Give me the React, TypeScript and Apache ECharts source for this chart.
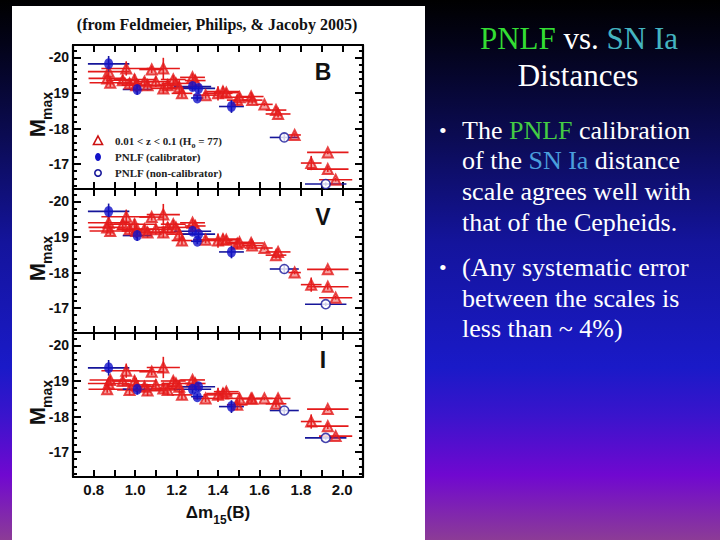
import React, { useEffect, useRef } from "react";
import * as echarts from "echarts";

// ---------- data ----------
const redX = [0.872, 0.865, 0.88, 0.957, 0.94, 0.973, 0.997, 1.005, 1.045, 1.06, 1.08, 1.1, 1.136, 1.136, 1.157, 1.184, 1.197, 1.213, 1.226, 1.277, 1.29, 1.34, 1.4, 1.424, 1.44, 1.493, 1.504, 1.56, 1.565, 1.624, 1.68, 1.69, 1.77, 1.85, 1.93, 1.93, 1.968];
const redXErr = [0.1, 0.09, 0.1, 0.12, 0.08, 0.06, 0.1, 0.07, 0.05, 0.08, 0.06, 0.07, 0.08, 0.06, 0.05, 0.06, 0.07, 0.06, 0.05, 0.06, 0.05, 0.06, 0.07, 0.08, 0.06, 0.05, 0.07, 0.06, 0.05, 0.04, 0.05, 0.06, 0.03, 0.05, 0.1, 0.1, 0.08];
const redYErr = [0.15, 0.1, 0.12, 0.2, 0.15, 0.15, 0.15, 0.2, 0.12, 0.15, 0.1, 0.15, 0.3, 0.15, 0.15, 0.12, 0.12, 0.2, 0.12, 0.1, 0.15, 0.1, 0.2, 0.15, 0.12, 0.15, 0.12, 0.12, 0.1, 0.05, 0.1, 0.1, 0.05, 0.2, 0.05, 0.08, 0.05];
const redB = [-19.6, -19.41, -19.29, -19.69, -19.36, -19.27, -19.38, -19.22, -19.32, -19.22, -19.66, -19.32, -19.69, -19.13, -19.22, -19.38, -19.27, -19.16, -18.99, -19.44, -19.35, -18.94, -18.99, -19.04, -19.01, -18.8, -18.88, -18.9, -18.8, -18.68, -18.52, -18.41, -17.82, -17.03, -17.33, -16.86, -16.56];
const redV = [-19.4, -19.27, -19.17, -19.57, -19.36, -19.22, -19.36, -19.17, -19.22, -19.13, -19.56, -19.22, -19.63, -19.13, -19.27, -19.36, -19.27, -19.08, -18.9, -19.4, -19.31, -18.92, -18.9, -18.94, -18.92, -18.81, -18.85, -18.83, -18.76, -18.69, -18.49, -18.58, -18.0, -17.66, -18.09, -17.6, -17.29];
const redI = [-18.93, -18.77, -19.03, -19.29, -19.0, -18.75, -19.0, -18.89, -18.84, -18.73, -19.26, -18.89, -19.38, -18.79, -18.75, -19.0, -18.93, -18.84, -18.61, -19.03, -18.93, -18.51, -18.61, -18.65, -18.7, -18.33, -18.51, -18.51, -18.5, -18.51, -18.36, -18.51, null, -17.86, -18.21, -17.73, -17.45];

const calX = [0.872, 1.01, 1.277, 1.306, 1.3, 1.465];
const calXErr = [0.1, 0.07, 0.09, 0.08, 0.03, 0.06];
const calYErr = [0.22, 0.15, 0.12, 0.12, 0.08, 0.18];
const calB = [-19.82, -19.1, -19.18, -19.13, -18.86, -18.62];
const calV = [-19.72, -19.04, -19.16, -19.08, -18.88, -18.58];
const calI = [-19.37, -18.77, -18.77, -18.84, -18.56, -18.28];

const ncX = [1.72, 1.92];
const ncXErr = [0.07, 0.1];
const ncYErr = [0.12, 0.05];
const ncB = [-17.75, -16.44];
const ncV = [-18.1, -17.11];
const ncI = [-18.17, -17.4];

const bandNames = ["B", "V", "I"];
const xTickLabels = ["0.8", "1.0", "1.2", "1.4", "1.6", "1.8", "2.0"];
const yMajorTicks = [-20, -19, -18, -17];
const yMinorTicks = [-20.2, -20.0, -19.8, -19.6, -19.4, -19.2, -19.0, -18.8, -18.6, -18.4, -18.2, -18.0, -17.8, -17.6, -17.4, -17.2, -17.0, -16.8, -16.6, -16.4];

const bandsRed = [redB, redV, redI];
const bandsCal = [calB, calV, calI];
const bandsNc = [ncB, ncV, ncI];

// ---------- layout ----------
const GRID_LEFT = 73;
const GRID_W = 290;
const GRID_TOPS = [45, 189, 333];
const GRID_H = 144;
const Y_MIN = -20.35;
const Y_MAX = -16.3;

const SANS = "'Liberation Sans', Arial, sans-serif";
const SERIF = "'Liberation Serif', 'Times New Roman', serif";

const RED = "#e41a1a";
const BLUE = "#1212c8";
const NAVY = "#16169a";

function build(xs: number[], ys: (number | null)[], xe: number[], ye: number[]) {
  const out: number[][] = [];
  xs.forEach((x, i) => {
    const y = ys[i];
    if (y === null || y === undefined) return;
    out.push([x, y, xe[i], ye[i]]);
  });
  return out;
}

function renderErr(color: string) {
  return (params: any, api: any) => {
    const x = api.value(0);
    const y = api.value(1);
    const xe = api.value(2);
    const ye = api.value(3);
    const l = api.coord([x - xe, y]);
    const r = api.coord([x + xe, y]);
    const t = api.coord([x, y - ye]);
    const b = api.coord([x, y + ye]);
    return {
      type: "group",
      children: [
        { type: "line", shape: { x1: l[0], y1: l[1], x2: r[0], y2: r[1] }, style: { stroke: color, lineWidth: 1.6 } },
        { type: "line", shape: { x1: t[0], y1: t[1], x2: b[0], y2: b[1] }, style: { stroke: color, lineWidth: 1.6 } },
      ],
    };
  };
}

function buildOption() {
  const grid: any[] = [];
  const xAxis: any[] = [];
  const yAxis: any[] = [];
  const series: any[] = [];
  const axisLine = { show: true, lineStyle: { color: "#000", width: 2.2 } };

  for (let p = 0; p < 3; p++) {
    grid.push({ left: GRID_LEFT, top: GRID_TOPS[p], width: GRID_W, height: GRID_H, containLabel: false });
    const isLast = p === 2;
    const xBase = {
      type: "value",
      gridIndex: p,
      min: 0.7,
      max: 2.1,
      interval: 0.1,
      splitLine: { show: false },
      axisLine,
      axisTick: { show: true, inside: true, length: 7, lineStyle: { color: "#000", width: 2 } },
    };
    xAxis.push({
      ...xBase,
      position: "bottom",
      axisLabel: {
        show: isLast,
        margin: 5,
        color: "#111",
        fontFamily: SANS,
        fontWeight: "bold",
        fontSize: 15,
        formatter: (v: number) => {
          const s = v.toFixed(1);
          return xTickLabels.indexOf(s) >= 0 ? s : "";
        },
      },
    });
    xAxis.push({ ...xBase, position: "top", axisLabel: { show: false } });

    const yBase = {
      type: "value",
      gridIndex: p,
      inverse: true,
      min: Y_MIN,
      max: Y_MAX,
      splitLine: { show: false },
    };
    for (const pos of ["left", "right"]) {
      yAxis.push({
        ...yBase,
        position: pos,
        axisLine,
        axisTick: { show: true, inside: true, length: 8, customValues: yMajorTicks, lineStyle: { color: "#000", width: 2 } },
        axisLabel: {
          show: pos === "left",
          customValues: yMajorTicks,
          margin: 4,
          color: "#111",
          fontFamily: SANS,
          fontWeight: "bold",
          fontSize: 14,
          formatter: (v: number) => String(Math.round(v)),
        },
      });
      yAxis.push({
        ...yBase,
        position: pos,
        axisLine: { show: false },
        axisTick: { show: true, inside: true, length: 4, customValues: yMinorTicks, lineStyle: { color: "#000", width: 2 } },
        axisLabel: { show: false },
      });
    }

    const xi = 2 * p;
    const yi = 4 * p;
    const red = build(redX, bandsRed[p], redXErr, redYErr);
    const cal = build(calX, bandsCal[p], calXErr, calYErr);
    const nc = build(ncX, bandsNc[p], ncXErr, ncYErr);

    series.push({ type: "custom", xAxisIndex: xi, yAxisIndex: yi, renderItem: renderErr(RED), data: red, encode: { x: 0, y: 1 }, z: 2 });
    series.push({ type: "custom", xAxisIndex: xi, yAxisIndex: yi, renderItem: renderErr(NAVY), data: cal, encode: { x: 0, y: 1 }, z: 2 });
    series.push({ type: "custom", xAxisIndex: xi, yAxisIndex: yi, renderItem: renderErr(NAVY), data: nc, encode: { x: 0, y: 1 }, z: 2 });
    series.push({
      type: "scatter", xAxisIndex: xi, yAxisIndex: yi, data: red.map((d) => [d[0], d[1]]),
      symbol: "triangle", symbolSize: 10,
      itemStyle: { color: "rgba(232,40,40,0.55)", borderColor: RED, borderWidth: 2 }, z: 3,
    });
    series.push({
      type: "scatter", xAxisIndex: xi, yAxisIndex: yi, data: cal.map((d) => [d[0], d[1]]),
      symbol: "circle", symbolSize: [9, 11], itemStyle: { color: BLUE }, z: 4,
    });
    series.push({
      type: "scatter", xAxisIndex: xi, yAxisIndex: yi, data: nc.map((d) => [d[0], d[1]]),
      symbol: "circle", symbolSize: 9, itemStyle: { color: "#fff", borderColor: NAVY, borderWidth: 1.6 }, z: 4,
    });
  }

  const graphic: any[] = [
    {
      type: "rect", z: -100, silent: true,
      shape: { x: 0, y: 0, width: 720, height: 540 },
      style: {
        fill: {
          type: "linear", x: 0, y: 0, x2: 0, y2: 1,
          colorStops: [
            { offset: 0, color: "#000000" },
            { offset: 0.08, color: "#030318" },
            { offset: 0.25, color: "#0b0b52" },
            { offset: 0.45, color: "#14149c" },
            { offset: 0.68, color: "#1a1ac8" },
            { offset: 0.77, color: "#3a14cc" },
            { offset: 0.88, color: "#7008d0" },
            { offset: 1, color: "#8c3c96" },
          ],
        },
      },
    },
    { type: "rect", z: -90, silent: true, shape: { x: 12, y: 6, width: 413, height: 540 }, style: { fill: "#ffffff" } },
    {
      type: "text", x: 217, y: 24, z: 100,
      style: { text: "(from Feldmeier, Philips, & Jacoby 2005)", fontFamily: SERIF, fontWeight: "bold", fontSize: 16, fill: "#111", textAlign: "center", textVerticalAlign: "middle" },
    },
  ];

  // band letters and y names
  const letterY = [72, 217, 360];
  for (let p = 0; p < 3; p++) {
    graphic.push({
      type: "text", x: 323, y: letterY[p], z: 100,
      style: { text: bandNames[p], fontFamily: SANS, fontWeight: "bold", fontSize: 23, fill: "#111", textAlign: "center", textVerticalAlign: "middle" },
    });
    const cy = GRID_TOPS[p] + GRID_H / 2;
    graphic.push({
      type: "text", x: 37, y: cy + 11, rotation: Math.PI / 2, z: 100,
      style: { text: "M", fontFamily: SANS, fontWeight: "bold", fontSize: 22, fill: "#111", textAlign: "center", textVerticalAlign: "middle" },
    });
    graphic.push({
      type: "text", x: 47, y: cy - 11, rotation: Math.PI / 2, z: 100,
      style: { text: "max", fontFamily: SANS, fontWeight: "bold", fontSize: 14, fill: "#111", textAlign: "center", textVerticalAlign: "middle" },
    });
  }

  // x axis name
  graphic.push({
    type: "text", x: 218, y: 512, z: 100,
    style: {
      text: "{a|Δm}{s|15}{a|(B)}",
      textAlign: "center", textVerticalAlign: "middle",
      rich: {
        a: { fontFamily: SANS, fontWeight: "bold", fontSize: 17, fill: "#111", lineHeight: 28, verticalAlign: "middle" },
        s: { fontFamily: SANS, fontWeight: "bold", fontSize: 12, fill: "#111", lineHeight: 12, verticalAlign: "bottom" },
      },
    },
  });

  // legend
  graphic.push({ type: "polygon", z: 100, shape: { points: [[98, 136], [102.5, 144.5], [93.5, 144.5]] }, style: { fill: "#fff", stroke: "#cc1111", lineWidth: 1.6 } });
  graphic.push({ type: "ellipse", z: 100, shape: { cx: 98, cy: 157, rx: 3, ry: 4 }, style: { fill: BLUE } });
  graphic.push({ type: "circle", z: 100, shape: { cx: 98, cy: 173, r: 3.2 }, style: { fill: "#fff", stroke: NAVY, lineWidth: 1.6 } });
  graphic.push({
    type: "text", x: 115, y: 141, z: 100,
    style: {
      text: "{a|0.01 < z < 0.1 (H}{s|o}{a| = 77)}",
      textVerticalAlign: "middle",
      fontFamily: SERIF,
      rich: {
        a: { fontFamily: SERIF, fontWeight: "bold", fontSize: 11, fill: "#222", lineHeight: 16, verticalAlign: "middle" },
        s: { fontFamily: SERIF, fontWeight: "bold", fontSize: 8, fill: "#222", lineHeight: 8, verticalAlign: "bottom" },
      },
    },
  });
  graphic.push({ type: "text", x: 115, y: 157, z: 100, style: { text: "PNLF (calibrator)", fontFamily: SERIF, fontWeight: "bold", fontSize: 11, fill: "#222", textVerticalAlign: "middle" } });
  graphic.push({ type: "text", x: 115, y: 173, z: 100, style: { text: "PNLF (non-calibrator)", fontFamily: SERIF, fontWeight: "bold", fontSize: 11, fill: "#222", textVerticalAlign: "middle" } });

  // right side text
  const titleRich = {
    wt: { fontFamily: SERIF, fontSize: 31, fill: "#ffffff" },
    gr: { fontFamily: SERIF, fontSize: 31, fill: "#33dd33" },
    tl: { fontFamily: SERIF, fontSize: 31, fill: "#44b4c0" },
  };
  graphic.push({ type: "text", x: 579, y: 38, z: 100, style: { text: "{gr|PNLF}{wt| vs. }{tl|SN Ia}", fontFamily: SERIF, fontSize: 31, fill: "#fff", rich: titleRich, textAlign: "center", textVerticalAlign: "middle" } });
  graphic.push({ type: "text", x: 578, y: 75, z: 100, style: { text: "Distances", fontFamily: SERIF, fontSize: 31, fill: "#ffffff", textAlign: "center", textVerticalAlign: "middle" } });

  const bodyRich = {
    wt: { fontFamily: SERIF, fontSize: 26, fill: "#ffffff" },
    gr: { fontFamily: SERIF, fontSize: 26, fill: "#44cc44" },
    bl: { fontFamily: SERIF, fontSize: 26, fill: "#4a9edc" },
  };
  const bodyLines: [string, number][] = [
    ["{wt|The }{gr|PNLF}{wt| calibration}", 130],
    ["{wt|of the }{bl|SN Ia}{wt| distance}", 160],
    ["scale agrees well with", 191],
    ["that of the Cepheids.", 222],
    ["(Any systematic error", 267],
    ["between the scales is", 298],
    ["less than ~ 4%)", 328],
  ];
  bodyLines.forEach(([t, y]) => {
    graphic.push({ type: "text", x: 462, y, z: 100, style: { text: t, fontFamily: SERIF, fontSize: 26, fill: "#ffffff", rich: bodyRich, textVerticalAlign: "middle" } });
  });
  [130, 267].forEach((y) => {
    graphic.push({ type: "text", x: 439, y, z: 100, style: { text: "•", fontFamily: SERIF, fontSize: 22, fill: "#ffffff", textVerticalAlign: "middle" } });
  });

  return { animation: false, grid, xAxis, yAxis, series, graphic };
}

export default function App() {
  const ref = useRef<HTMLDivElement>(null);
  useEffect(() => {
    document.body.style.margin = "0";
    if (!ref.current) return;
    const chart = echarts.init(ref.current, null, { renderer: "svg" });
    chart.setOption(buildOption() as any);
    return () => chart.dispose();
  }, []);
  return <div ref={ref} style={{ width: 720, height: 540 }} />;
}
